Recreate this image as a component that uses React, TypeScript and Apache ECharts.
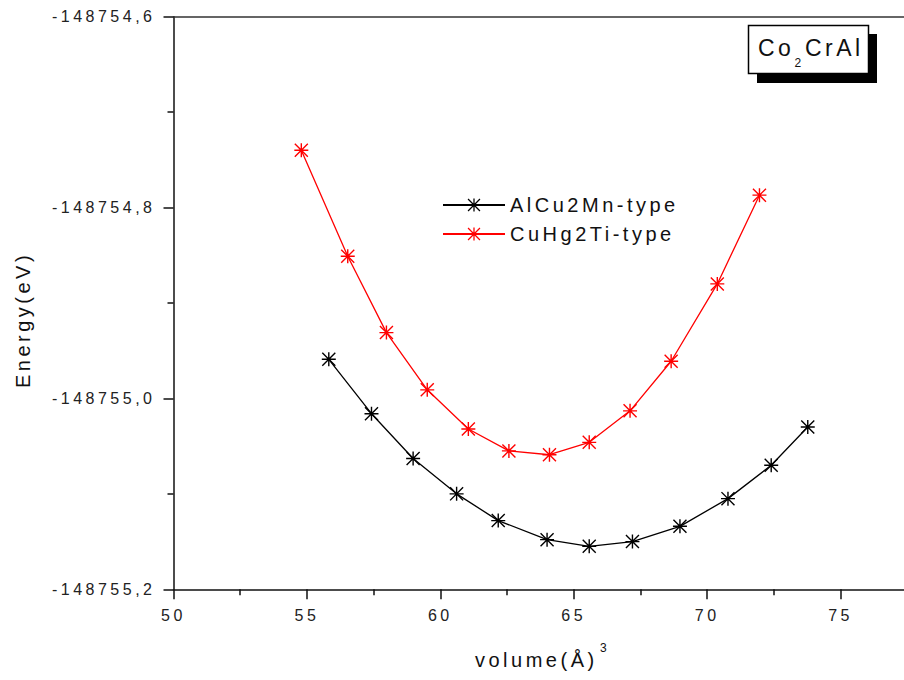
import React, { useEffect, useRef } from 'react';
import * as echarts from 'echarts';

// ---- data ----
const seriesNames = ['AlCu2Mn-type', 'CuHg2Ti-type'];
const volumeAlCu2Mn = [55.82, 57.42, 58.98, 60.61, 62.17, 64.0, 65.58, 67.2, 68.98, 70.78, 72.4, 73.77];
const energyAlCu2Mn = [-148754.959, -148755.016, -148755.063, -148755.1, -148755.128, -148755.148, -148755.155, -148755.15, -148755.134, -148755.105, -148755.07, -148755.03];
const volumeCuHg2Ti = [54.79, 56.53, 57.98, 59.51, 61.05, 62.57, 64.09, 65.58, 67.11, 68.65, 70.38, 71.96];
const energyCuHg2Ti = [-148754.74, -148754.851, -148754.931, -148754.991, -148755.032, -148755.055, -148755.059, -148755.046, -148755.013, -148754.961, -148754.88, -148754.787];
const xTickLabels = ['50', '55', '60', '65', '70', '75'];
const yTickLabels = ['-148755,2', '-148755,0', '-148754,8', '-148754,6'];
const xMin = 50;
const xMax = 80; // the frame runs past the right edge of the picture
const xStep = 5;
const yMin = -148755.2;
const yMax = -148754.6;
const yStep = 0.2;

const FONT = '"Liberation Sans", Arial, Helvetica, sans-serif';
const STAR = 'path://M9 0H11V20H9Z M0 9H20V11H0Z M0 1.4L1.4 0L20 18.6L18.6 20Z M18.6 0L20 1.4L1.4 20L0 18.6Z';

export default function App() {
  const ref = useRef<HTMLDivElement>(null);
  useEffect(() => {
    if (!ref.current) return;
    const chart = echarts.init(ref.current, undefined, { renderer: 'svg' });
    const pair = (xs: number[], ys: number[]) => xs.map((x, i) => [x, ys[i]]);
    const xLabel = (v: number) => {
      const s = String(v);
      return xTickLabels.includes(s) ? s : '';
    };
    const yLabel = (v: number) => {
      const s = v.toFixed(1).replace('.', ',');
      return yTickLabels.includes(s) ? s : '';
    };
    const axisColor = '#111';
    chart.setOption({
      animation: false,
      backgroundColor: '#fff',
      grid: { left: 173.5, top: 16.7, right: 0, bottom: 90.7, containLabel: false },
      xAxis: [
        {
          type: 'value',
          position: 'bottom',
          min: xMin,
          max: xMax,
          interval: xStep,
          axisLine: { show: true, onZero: false, lineStyle: { color: axisColor, width: 1.5 } },
          axisTick: { show: true, length: 10, lineStyle: { color: axisColor, width: 1.5 } },
          minorTick: { show: true, splitNumber: 2, length: 6, lineStyle: { color: axisColor, width: 1.5 } },
          axisLabel: { margin: 18, color: '#222', fontSize: 16, fontFamily: FONT, formatter: xLabel },
          splitLine: { show: false },
          minorSplitLine: { show: false },
        },
        {
          type: 'value',
          position: 'top',
          min: xMin,
          max: xMax,
          interval: xStep,
          axisLine: { show: true, onZero: false, lineStyle: { color: '#333', width: 1.5 } },
          axisTick: { show: false },
          axisLabel: { show: false },
          splitLine: { show: false },
        },
      ],
      yAxis: {
        type: 'value',
        min: yMin,
        max: yMax,
        interval: yStep,
        axisLine: { show: true, onZero: false, lineStyle: { color: axisColor, width: 1.5 } },
        axisTick: { show: true, length: 10, lineStyle: { color: axisColor, width: 1.5 } },
        minorTick: { show: true, splitNumber: 2, length: 6, lineStyle: { color: axisColor, width: 1.5 } },
        axisLabel: { margin: 18, color: '#222', fontSize: 16, fontFamily: FONT, formatter: yLabel },
        splitLine: { show: false },
        minorSplitLine: { show: false },
      },
      legend: {
        orient: 'vertical',
        left: 442,
        top: 195,
        padding: 0,
        itemWidth: 62,
        itemHeight: 16,
        itemGap: 9,
        textStyle: { fontSize: 20, fontFamily: FONT, color: '#111' },
        data: seriesNames,
      },
      series: [
        {
          name: seriesNames[0],
          type: 'line',
          data: pair(volumeAlCu2Mn, energyAlCu2Mn),
          symbol: STAR,
          symbolSize: 14,
          showSymbol: true,
          color: '#000',
          lineStyle: { color: '#000', width: 1.3 },
          itemStyle: { color: '#000' },
        },
        {
          name: seriesNames[1],
          type: 'line',
          data: pair(volumeCuHg2Ti, energyCuHg2Ti),
          symbol: STAR,
          symbolSize: 14,
          showSymbol: true,
          color: '#ff0000',
          lineStyle: { color: '#ff0000', width: 1.3 },
          itemStyle: { color: '#ff0000' },
        },
      ],
      graphic: [
        { type: 'rect', z: 10, shape: { x: 757, y: 34, width: 120, height: 49 }, style: { fill: '#000' } },
        { type: 'rect', z: 11, shape: { x: 748.5, y: 25.5, width: 120, height: 48 }, style: { fill: '#fff', stroke: '#000', lineWidth: 1.5 } },
        { type: 'text', z: 12, x: 758, y: 48, style: { text: 'Co', fontSize: 23, fontFamily: FONT, fill: '#111', align: 'left', verticalAlign: 'middle' } },
        { type: 'text', z: 12, x: 794.5, y: 63, style: { text: '2', fontSize: 12, fontFamily: FONT, fill: '#111', align: 'left', verticalAlign: 'middle' } },
        { type: 'text', z: 12, x: 805, y: 48, style: { text: 'CrAl', fontSize: 23, fontFamily: FONT, fill: '#111', align: 'left', verticalAlign: 'middle' } },
        { type: 'text', z: 12, x: 23, y: 320, rotation: Math.PI / 2, style: { text: 'Energy(eV)', fontSize: 20, fontFamily: FONT, fill: '#111', align: 'center', verticalAlign: 'middle' } },
        { type: 'text', z: 12, x: 475, y: 660, style: { text: 'volume(Å)', fontSize: 20, fontFamily: FONT, fill: '#111', align: 'left', verticalAlign: 'middle' } },
        { type: 'text', z: 12, x: 600, y: 648, style: { text: '3', fontSize: 12, fontFamily: FONT, fill: '#111', align: 'left', verticalAlign: 'middle' } },
      ],
    });
    return () => chart.dispose();
  }, []);
  return (
    <div style={{ position: 'absolute', left: 0, top: 0, width: 904, height: 680, overflow: 'hidden', background: '#fff' }}>
      <div ref={ref} style={{ width: 977, height: 680, letterSpacing: '3.5px' }} />
    </div>
  );
}
